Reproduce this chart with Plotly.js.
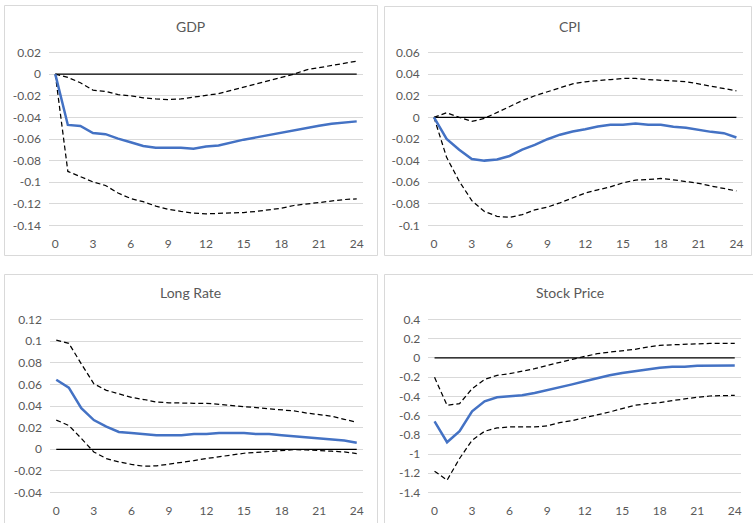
<!DOCTYPE html>
<html>
<head>
<meta charset="utf-8">
<script src="https://cdn.plot.ly/plotly-3.0.1.min.js"></script>
<style>html,body{margin:0;padding:0;background:#fff;}#chart{width:753px;height:523px;}</style>
</head>
<body>
<div id="chart"></div>
<script>
// ---------- DATA ----------
const horizons = [0,1,2,3,4,5,6,7,8,9,10,11,12,13,14,15,16,17,18,19,20,21,22,23,24];
const zeroLine = [0,0,0,0,0,0,0,0,0,0,0,0,0,0,0,0,0,0,0,0,0,0,0,0,0];
const xTickVals = [0,3,6,9,12,15,18,21,24];

const panelTitles = ["GDP", "CPI", "Long Rate", "Stock Price"];

const gdpMedian = [0,-0.047,-0.048,-0.0545,-0.0555,-0.0597,-0.063,-0.0665,-0.068,-0.068,-0.068,-0.069,-0.067,-0.066,-0.063,-0.0606,-0.0585,-0.0563,-0.054,-0.052,-0.050,-0.0477,-0.046,-0.045,-0.0437];
const gdpUpper  = [0,-0.003,-0.008,-0.0148,-0.016,-0.019,-0.020,-0.022,-0.023,-0.0235,-0.023,-0.0215,-0.020,-0.018,-0.015,-0.012,-0.009,-0.006,-0.003,0.000,0.004,0.006,0.008,0.010,0.012];
const gdpLower  = [0,-0.090,-0.0948,-0.0997,-0.103,-0.110,-0.115,-0.118,-0.122,-0.125,-0.127,-0.1286,-0.1292,-0.129,-0.1285,-0.128,-0.127,-0.1255,-0.124,-0.1215,-0.120,-0.1185,-0.117,-0.116,-0.1154];

const cpiMedian = [0,-0.020,-0.030,-0.0385,-0.0400,-0.0390,-0.0357,-0.0298,-0.0255,-0.0202,-0.016,-0.013,-0.011,-0.0084,-0.0068,-0.0068,-0.0056,-0.0068,-0.0068,-0.0087,-0.0096,-0.0115,-0.0134,-0.0146,-0.0186];
const cpiUpper  = [0,0.0043,0.000,-0.0037,-0.001,0.0047,0.010,0.0155,0.020,0.0236,0.027,0.031,0.0329,0.0342,0.035,0.036,0.036,0.035,0.0345,0.034,0.033,0.031,0.029,0.027,0.0245];
const cpiLower  = [0,-0.037,-0.059,-0.077,-0.087,-0.0915,-0.0925,-0.090,-0.0855,-0.083,-0.079,-0.0745,-0.070,-0.067,-0.0643,-0.0605,-0.058,-0.0575,-0.0565,-0.0578,-0.0595,-0.061,-0.0635,-0.066,-0.068];

const longMedian = [0.0643,0.057,0.038,0.027,0.021,0.016,0.015,0.014,0.013,0.013,0.013,0.014,0.014,0.015,0.015,0.015,0.014,0.014,0.013,0.012,0.011,0.010,0.009,0.008,0.006];
const longUpper  = [0.101,0.098,0.079,0.0606,0.0545,0.051,0.048,0.046,0.0437,0.043,0.0425,0.0425,0.0425,0.0415,0.0406,0.0397,0.0388,0.0375,0.0366,0.0354,0.0335,0.0323,0.0305,0.0277,0.025];
const longLower  = [0.027,0.022,0.010,-0.0025,-0.0086,-0.0117,-0.014,-0.0157,-0.0154,-0.0138,-0.0126,-0.0105,-0.0086,-0.0068,-0.0055,-0.0037,-0.003,-0.0022,-0.001,-0.0003,-0.0006,-0.0015,-0.0018,-0.0025,-0.004];

const stockMedian = [-0.659,-0.877,-0.763,-0.555,-0.451,-0.409,-0.399,-0.389,-0.365,-0.337,-0.309,-0.275,-0.243,-0.209,-0.181,-0.157,-0.136,-0.119,-0.102,-0.091,-0.091,-0.081,-0.078,-0.078,-0.078];
const stockUpper  = [-0.202,-0.493,-0.475,-0.320,-0.223,-0.181,-0.164,-0.140,-0.112,-0.078,-0.043,-0.015,0.016,0.044,0.061,0.075,0.089,0.113,0.130,0.137,0.144,0.151,0.151,0.151,0.151];
const stockLower  = [-1.178,-1.272,-1.046,-0.856,-0.763,-0.728,-0.718,-0.718,-0.718,-0.707,-0.673,-0.652,-0.624,-0.597,-0.562,-0.527,-0.493,-0.475,-0.465,-0.444,-0.423,-0.409,-0.396,-0.389,-0.389];

const gdpTicks   = [0.02,0,-0.02,-0.04,-0.06,-0.08,-0.1,-0.12,-0.14];
const gdpLabels  = ["0.02","0","-0.02","-0.04","-0.06","-0.08","-0.1","-0.12","-0.14"];
const cpiTicks   = [0.06,0.04,0.02,0,-0.02,-0.04,-0.06,-0.08,-0.1];
const cpiLabels  = ["0.06","0.04","0.02","0","-0.02","-0.04","-0.06","-0.08","-0.1"];
const longTicks  = [0.12,0.1,0.08,0.06,0.04,0.02,0,-0.02,-0.04];
const longLabels = ["0.12","0.1","0.08","0.06","0.04","0.02","0","-0.02","-0.04"];
const stockTicks = [0.4,0.2,0,-0.2,-0.4,-0.6,-0.8,-1,-1.2,-1.4];
const stockLabels= ["0.4","0.2","0","-0.2","-0.4","-0.6","-0.8","-1","-1.2","-1.4"];

// ---------- LAYOUT ----------
const W = 753, H = 523;
const px = v => v / W;
const py = v => 1 - v / H;
const FONT = "Lato, 'Open Sans', sans-serif";
const TXT = "#595959";
const GRID = "#d9d9d9";
const EDGE = 3; // px of extra room so edge gridlines are not clipped

const panels = [
  {med: gdpMedian, up: gdpUpper, lo: gdpLower, ticks: gdpTicks, labels: gdpLabels,
   box: [4.5, 5.5, 377.5, 255.5], plot: [49, 52.5, 363, 225.5], title: [190.5, 26]},
  {med: cpiMedian, up: cpiUpper, lo: cpiLower, ticks: cpiTicks, labels: cpiLabels,
   box: [384.5, 6.5, 751.5, 255.5], plot: [427.7, 52.5, 742.7, 225.5], title: [570, 26]},
  {med: longMedian, up: longUpper, lo: longLower, ticks: longTicks, labels: longLabels,
   box: [4.5, 274.5, 377.5, 530], plot: [50, 319.5, 363, 492.5], title: [190.5, 292.7]},
  {med: stockMedian, up: stockUpper, lo: stockLower, ticks: stockTicks, labels: stockLabels,
   box: [384.5, 274.5, 760, 530], plot: [428.3, 319.5, 741, 492.5], title: [569.5, 292.7]}
];

const traces = [];
const layout = {
  width: W, height: H,
  margin: {l: 0, r: 0, t: 0, b: 0, pad: 0},
  paper_bgcolor: "#ffffff",
  plot_bgcolor: "rgba(0,0,0,0)",
  showlegend: false,
  font: {family: FONT, color: TXT, size: 12},
  shapes: [],
  annotations: []
};

panels.forEach((p, i) => {
  const n = i + 1;
  const xa = n === 1 ? "x" : "x" + n;
  const ya = n === 1 ? "y" : "y" + n;
  const xKey = n === 1 ? "xaxis" : "xaxis" + n;
  const yKey = n === 1 ? "yaxis" : "yaxis" + n;
  const [x0, yTop, x1, yBot] = p.plot;
  const top = p.ticks[0], bot = p.ticks[p.ticks.length - 1];
  const perPx = (top - bot) / (yBot - yTop);
  layout[xKey] = {
    domain: [px(x0), px(x1)], anchor: ya,
    range: [-0.5, 24.5], tickvals: xTickVals, ticktext: xTickVals.map(String),
    showgrid: false, zeroline: false, showline: false, ticks: "",
    ticklabelstandoff: 9 - EDGE,
    tickfont: {family: FONT, size: 12, color: TXT}, fixedrange: true
  };
  layout[yKey] = {
    domain: [py(yBot + EDGE), py(yTop - EDGE)], anchor: xa,
    range: [bot - EDGE * perPx, top + EDGE * perPx],
    tickmode: "array", tickvals: p.ticks, ticktext: p.labels,
    showgrid: true, gridcolor: GRID, gridwidth: 1,
    zeroline: false, showline: false, ticks: "",
    ticklabelstandoff: 7,
    tickfont: {family: FONT, size: 12, color: TXT}, fixedrange: true
  };
  const [bx0, by0, bx1, by1] = p.box;
  layout.shapes.push({
    type: "rect", xref: "paper", yref: "paper",
    x0: px(bx0), x1: px(bx1), y0: py(by1), y1: py(by0),
    line: {color: GRID, width: 1}, fillcolor: "rgba(0,0,0,0)", layer: "below"
  });
  layout.annotations.push({
    xref: "paper", yref: "paper", x: px(p.title[0]), y: py(p.title[1]),
    xanchor: "center", yanchor: "middle", showarrow: false,
    text: panelTitles[i], font: {family: FONT, size: 14, color: TXT}
  });
  traces.push({x: horizons, y: zeroLine, xaxis: xa, yaxis: ya, mode: "lines",
    line: {color: "#000000", width: 1.25}, hoverinfo: "skip"});
  traces.push({x: horizons, y: p.up, xaxis: xa, yaxis: ya, mode: "lines",
    line: {color: "#000000", width: 1.25, dash: "5px,3px"}, hoverinfo: "skip"});
  traces.push({x: horizons, y: p.lo, xaxis: xa, yaxis: ya, mode: "lines",
    line: {color: "#000000", width: 1.25, dash: "5px,3px"}, hoverinfo: "skip"});
  traces.push({x: horizons, y: p.med, xaxis: xa, yaxis: ya, mode: "lines",
    line: {color: "#4472C4", width: 2.5}, hoverinfo: "skip"});
});

Plotly.newPlot("chart", traces, layout, {staticPlot: true, displayModeBar: false});
</script>
</body>
</html>
